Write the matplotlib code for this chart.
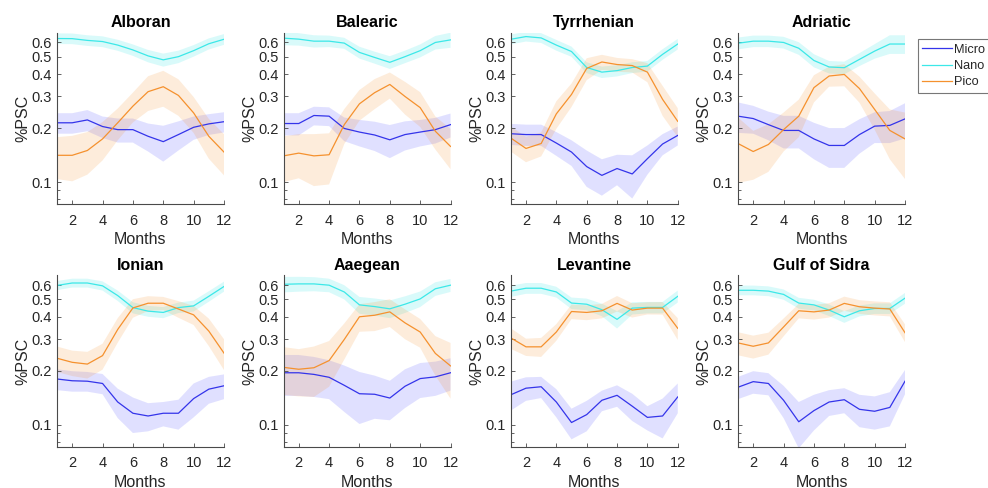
import matplotlib
matplotlib.use('Agg')
import matplotlib.pyplot as plt
import numpy as np
from matplotlib.ticker import FixedLocator, FixedFormatter, NullFormatter

plt.rcParams['font.family'] = ['Liberation Sans', 'DejaVu Sans']

months = np.arange(1, 13)
regions = ['Alboran', 'Balearic', 'Tyrrhenian', 'Adriatic',
           'Ionian', 'Aaegean', 'Levantine', 'Gulf of Sidra']
size_classes = ['Micro', 'Nano', 'Pico']

# one row per region (same order as regions), 12 monthly values each
micro_mean = [
    [0.214, 0.214, 0.222, 0.204, 0.196, 0.196, 0.180, 0.168, 0.184, 0.202, 0.211, 0.217],
    [0.212, 0.212, 0.235, 0.233, 0.199, 0.190, 0.183, 0.172, 0.184, 0.190, 0.196, 0.209],
    [0.186, 0.184, 0.184, 0.165, 0.147, 0.122, 0.109, 0.119, 0.111, 0.135, 0.163, 0.182],
    [0.233, 0.226, 0.209, 0.194, 0.194, 0.174, 0.160, 0.160, 0.184, 0.205, 0.207, 0.225],
    [0.180, 0.176, 0.175, 0.170, 0.134, 0.116, 0.112, 0.116, 0.116, 0.140, 0.158, 0.165],
    [0.195, 0.195, 0.191, 0.184, 0.166, 0.149, 0.148, 0.141, 0.164, 0.181, 0.185, 0.195],
    [0.147, 0.160, 0.163, 0.134, 0.103, 0.114, 0.137, 0.146, 0.127, 0.110, 0.112, 0.143],
    [0.162, 0.174, 0.170, 0.137, 0.104, 0.120, 0.134, 0.138, 0.122, 0.119, 0.125, 0.175],
]
micro_err = [
    [0.028, 0.028, 0.030, 0.028, 0.030, 0.030, 0.032, 0.038, 0.034, 0.030, 0.028, 0.028],
    [0.030, 0.030, 0.028, 0.028, 0.030, 0.032, 0.034, 0.036, 0.034, 0.032, 0.032, 0.032],
    [0.025, 0.025, 0.025, 0.025, 0.024, 0.028, 0.025, 0.023, 0.030, 0.025, 0.022, 0.022],
    [0.045, 0.040, 0.038, 0.040, 0.040, 0.040, 0.040, 0.040, 0.040, 0.040, 0.042, 0.050],
    [0.024, 0.023, 0.022, 0.022, 0.025, 0.026, 0.020, 0.018, 0.022, 0.030, 0.027, 0.026],
    [0.050, 0.050, 0.048, 0.045, 0.048, 0.048, 0.040, 0.035, 0.040, 0.040, 0.040, 0.040],
    [0.027, 0.024, 0.022, 0.024, 0.020, 0.022, 0.018, 0.020, 0.022, 0.017, 0.028, 0.027],
    [0.023, 0.025, 0.024, 0.028, 0.030, 0.027, 0.022, 0.022, 0.025, 0.025, 0.027, 0.027],
]
nano_mean = [
    [0.631, 0.630, 0.616, 0.607, 0.580, 0.545, 0.505, 0.480, 0.500, 0.540, 0.590, 0.625],
    [0.634, 0.626, 0.610, 0.610, 0.595, 0.528, 0.495, 0.465, 0.500, 0.540, 0.600, 0.620],
    [0.625, 0.647, 0.636, 0.580, 0.534, 0.435, 0.410, 0.418, 0.435, 0.443, 0.515, 0.588],
    [0.594, 0.610, 0.610, 0.600, 0.557, 0.476, 0.438, 0.434, 0.483, 0.537, 0.588, 0.588],
    [0.598, 0.617, 0.617, 0.595, 0.525, 0.450, 0.430, 0.423, 0.450, 0.460, 0.520, 0.590],
    [0.607, 0.610, 0.610, 0.600, 0.550, 0.466, 0.456, 0.443, 0.470, 0.503, 0.573, 0.600],
    [0.556, 0.577, 0.577, 0.550, 0.477, 0.470, 0.438, 0.387, 0.447, 0.451, 0.451, 0.520],
    [0.562, 0.562, 0.556, 0.533, 0.477, 0.466, 0.436, 0.400, 0.432, 0.445, 0.445, 0.508],
]
nano_err = [
    [0.043, 0.043, 0.042, 0.042, 0.041, 0.040, 0.040, 0.040, 0.040, 0.040, 0.042, 0.043],
    [0.055, 0.050, 0.048, 0.045, 0.042, 0.040, 0.038, 0.038, 0.040, 0.045, 0.052, 0.060],
    [0.040, 0.040, 0.040, 0.040, 0.035, 0.030, 0.030, 0.030, 0.030, 0.030, 0.035, 0.040],
    [0.045, 0.045, 0.045, 0.045, 0.045, 0.040, 0.035, 0.035, 0.040, 0.050, 0.070, 0.070],
    [0.035, 0.035, 0.035, 0.035, 0.035, 0.032, 0.030, 0.030, 0.030, 0.032, 0.035, 0.038],
    [0.060, 0.058, 0.055, 0.052, 0.050, 0.050, 0.050, 0.050, 0.050, 0.050, 0.050, 0.050],
    [0.040, 0.040, 0.040, 0.038, 0.035, 0.035, 0.035, 0.043, 0.035, 0.033, 0.033, 0.040],
    [0.035, 0.035, 0.035, 0.035, 0.033, 0.032, 0.032, 0.030, 0.030, 0.030, 0.030, 0.035],
]
pico_mean = [
    [0.141, 0.141, 0.150, 0.174, 0.214, 0.265, 0.319, 0.340, 0.304, 0.243, 0.180, 0.147],
    [0.140, 0.145, 0.140, 0.142, 0.209, 0.273, 0.315, 0.350, 0.300, 0.260, 0.192, 0.158],
    [0.176, 0.154, 0.164, 0.240, 0.308, 0.430, 0.467, 0.452, 0.446, 0.410, 0.289, 0.218],
    [0.164, 0.148, 0.162, 0.196, 0.233, 0.336, 0.390, 0.398, 0.332, 0.254, 0.194, 0.174],
    [0.235, 0.223, 0.218, 0.243, 0.340, 0.448, 0.476, 0.476, 0.442, 0.410, 0.333, 0.251],
    [0.209, 0.204, 0.208, 0.228, 0.299, 0.400, 0.408, 0.426, 0.370, 0.329, 0.250, 0.213],
    [0.305, 0.272, 0.272, 0.329, 0.428, 0.423, 0.432, 0.475, 0.436, 0.447, 0.447, 0.345],
    [0.286, 0.274, 0.286, 0.351, 0.432, 0.426, 0.436, 0.475, 0.455, 0.447, 0.442, 0.326],
]
pico_err = [
    [0.037, 0.040, 0.040, 0.042, 0.043, 0.050, 0.070, 0.077, 0.070, 0.055, 0.045, 0.038],
    [0.040, 0.040, 0.045, 0.045, 0.046, 0.053, 0.060, 0.058, 0.062, 0.057, 0.040, 0.040],
    [0.028, 0.025, 0.025, 0.042, 0.046, 0.060, 0.045, 0.040, 0.038, 0.050, 0.055, 0.040],
    [0.065, 0.045, 0.048, 0.048, 0.055, 0.058, 0.050, 0.056, 0.055, 0.058, 0.060, 0.070],
    [0.038, 0.036, 0.037, 0.040, 0.053, 0.053, 0.045, 0.040, 0.047, 0.050, 0.058, 0.049],
    [0.062, 0.060, 0.065, 0.065, 0.068, 0.070, 0.075, 0.075, 0.070, 0.060, 0.062, 0.073],
    [0.040, 0.030, 0.033, 0.035, 0.040, 0.040, 0.040, 0.047, 0.040, 0.035, 0.036, 0.048],
    [0.042, 0.040, 0.040, 0.040, 0.040, 0.040, 0.040, 0.043, 0.040, 0.040, 0.040, 0.037],
]

yticks = [0.1, 0.2, 0.3, 0.4, 0.5, 0.6]
ytick_labels = ['0.1', '0.2', '0.3', '0.4', '0.5', '0.6']
xticks = [2, 4, 6, 8, 10, 12]

line_colors = {'Micro': '#3434ea', 'Nano': '#3ce8e8', 'Pico': '#f5912e'}
band_colors = {'Micro': '#2828ff', 'Nano': '#2ee6e6', 'Pico': '#f7902a'}
band_alpha = {'Micro': 0.14, 'Nano': 0.18, 'Pico': 0.17}
txt = '#262626'
axis_col = '#4a4a4a'

fig = plt.figure(figsize=(9.88, 4.88), dpi=100)

lefts = [0.0577, 0.287, 0.517, 0.747]
bottoms = [0.582, 0.0846]
w, h = 0.169, 0.351

handles = []
for i, region in enumerate(regions):
  row, col = divmod(i, 4)
  ax = fig.add_axes([lefts[col], bottoms[row], w, h])

  series = {'Micro': (micro_mean[i], micro_err[i]),
            'Nano': (nano_mean[i], nano_err[i]),
            'Pico': (pico_mean[i], pico_err[i])}

  # shaded spread first, lines on top
  for name in size_classes:
    m, e = np.array(series[name][0]), np.array(series[name][1])
    ax.fill_between(months, m - e, m + e, facecolor=band_colors[name],
                    alpha=band_alpha[name], edgecolor='none')
  for name in size_classes:
    m = series[name][0]
    ln, = ax.plot(months, m, color=line_colors[name], lw=0.9, label=name)
    if i == 0:
      handles.append(ln)

  ax.set_yscale('log')
  ax.set_ylim(0.0755, 0.68)
  ax.set_xlim(1, 12)
  ax.yaxis.set_major_locator(FixedLocator(yticks))
  ax.yaxis.set_major_formatter(FixedFormatter(ytick_labels))
  ax.yaxis.set_minor_locator(FixedLocator([0.08, 0.09, 0.7]))
  ax.yaxis.set_minor_formatter(NullFormatter())
  ax.set_xticks(xticks)

  for s in ['top', 'right']:
    ax.spines[s].set_visible(False)
  for s in ['left', 'bottom']:
    ax.spines[s].set_color(axis_col)
    ax.spines[s].set_linewidth(0.8)
  ax.tick_params(which='both', direction='in', colors=axis_col, labelcolor=txt,
                 labelsize=10.5, width=0.6)
  ax.tick_params(which='major', length=3)
  ax.tick_params(which='minor', length=2)
  ax.tick_params(axis='x', pad=7)

  ax.set_title(region, fontsize=11.5, fontweight='bold', color='black', pad=4)
  ax.set_xlabel('Months', fontsize=11.5, color=txt, labelpad=3)
  ax.set_ylabel('%PSC', fontsize=11.5, color=txt, labelpad=1)

leg = fig.legend(handles=handles, labels=size_classes, loc='upper left',
                 bbox_to_anchor=(0.929, 0.92), borderaxespad=0, fontsize=9.2,
                 frameon=True, fancybox=False, handlelength=2.3,
                 handletextpad=0.2, borderpad=0.35, labelspacing=0.35)
leg.get_frame().set_edgecolor('#555555')
leg.get_frame().set_linewidth(0.8)
for t in leg.get_texts():
  t.set_color(txt)

fig.savefig('out.png', dpi=100)
